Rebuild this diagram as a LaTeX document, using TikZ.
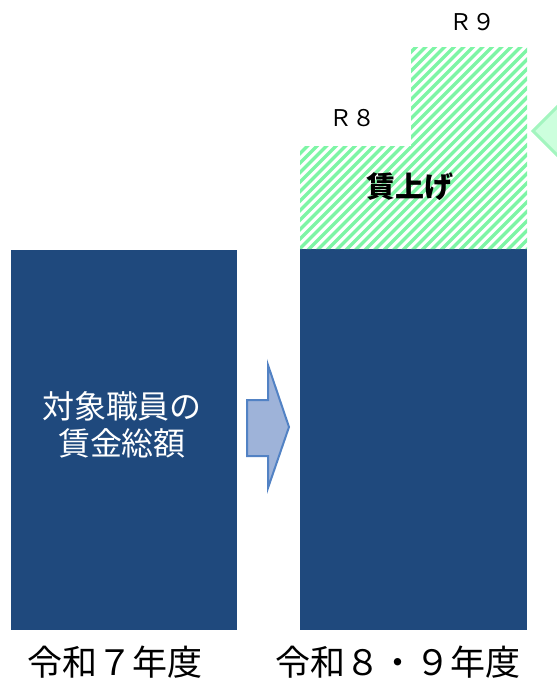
\documentclass[tikz,border=0pt]{standalone}
\usepackage{fontspec}
\setmainfont{Noto Sans CJK JP}
\usetikzlibrary{positioning}

\definecolor{barblue}{HTML}{1F497D}
\definecolor{hatchgreen}{HTML}{7DF5A5}
\definecolor{arrowfill}{HTML}{9EB3D9}
\definecolor{arrowline}{HTML}{5282C4}
\definecolor{markfill}{HTML}{CCFFDD}
\definecolor{markline}{HTML}{A3F5BF}

\begin{document}
\begin{tikzpicture}[x=1pt,y=-1pt,
    bar/.style={fill=barblue, draw=none, inner sep=0pt, anchor=north west,
      minimum width=226pt, minimum height=380pt},
    hatch/.style={draw=hatchgreen, line width=3.4pt},
    yearlabel/.style={font=\fontsize{35pt}{40pt}\selectfont, inner sep=0pt},
    rlabel/.style={font=\fontsize{23pt}{26pt}\selectfont, inner sep=0pt}]
  \useasboundingbox (0,0) rectangle (557,681);

  % bars
  \node[bar] (before) at (11,250) {};
  \node[bar, minimum width=227pt, minimum height=381pt] (after) at (300,249) {};

  % wage increase, hatched
  \begin{scope}
    \clip (300,146) -- (411,146) -- (411,47) -- (527,47) -- (527,249) -- (300,249) -- cycle;
    \foreach \a in {70,79.5,...,545}
      \draw[hatch] (\a,260) -- ++(220,-220);
  \end{scope}

  \node[rlabel] (r8) at (352,118) {Ｒ８};
  \node[rlabel] (r9) at (472,22) {Ｒ９};
  \node[font=\fontsize{29pt}{32pt}\selectfont\bfseries, inner sep=0pt] (raise) at (410,187) {賃上げ};

  % text in the left bar
  \node[text=white, align=center, inner sep=0pt,
    font=\fontsize{32pt}{37pt}\selectfont] (total) at (122,425) {対象職員の\\賃金総額};

  % arrow between bars
  \draw[fill=arrowfill, draw=arrowline, line width=2pt, line join=miter]
    (247,400) -- (268,400) -- (268,365) -- (289,427) -- (268,488)
    -- (268,456) -- (247,456) -- cycle;

  % marker at the right edge
  \draw[fill=markfill, draw=markline, line width=3pt]
    (562,102) -- (533,131) -- (562,160);

  % year labels
  \node[yearlabel] (year7) at (115,662) {令和７年度};
  \node[yearlabel] (year89) at (398,662) {令和８・９年度};
\end{tikzpicture}
\end{document}
